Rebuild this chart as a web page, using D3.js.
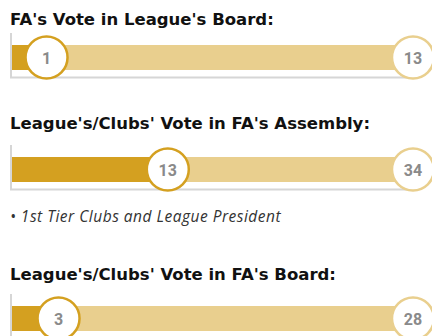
<!DOCTYPE html>
<html>
<head>
<meta charset="utf-8">
<script src="https://cdn.jsdelivr.net/npm/d3@7"></script>
<style>
  html, body { margin: 0; padding: 0; background: #fff; }
  svg { display: block; }
</style>
</head>
<body>
<svg id="chart" width="432" height="336"></svg>
<script>
// Votes held by each body versus the total seats
const titles = [
  "FA's Vote in League's Board:",
  "League's/Clubs' Vote in FA's Assembly:",
  "League's/Clubs' Vote in FA's Board:"
];
const values = [1, 13, 3];
const totals = [13, 34, 28];
const notes = ["", "\u2022 1st Tier Clubs and League President", ""];

const dark = "#D4A020";
const light = "#E9CF8E";
const axisGray = "#D6D6D6";
const numGray = "#8A8A8A";

// Vertical placement of each block (title baseline, bar top)
const titleY = [25, 129, 280];
const barTop = [45, 157, 306];
const barH = 25;
const r = 21;
const x0 = 12, x1 = 413;

const svg = d3.select("#chart");

titles.forEach((t, i) => {
  const g = svg.append("g");
  const x = d3.scaleLinear().domain([0, totals[i]]).range([x0 + 4, x1]);
  const cy = barTop[i] + barH / 2;

  g.append("text")
    .attr("x", 10).attr("y", titleY[i])
    .attr("font-family", "'DejaVu Sans', sans-serif")
    .attr("font-weight", 700)
    .attr("font-size", 16.5)
    .attr("letter-spacing", 0)
    .attr("fill", "#111")
    .text(t);

  // full-length track
  g.append("rect")
    .attr("x", x0).attr("y", barTop[i])
    .attr("width", x(totals[i]) - x0).attr("height", barH)
    .attr("fill", light);

  // filled portion
  g.append("rect")
    .attr("x", x0).attr("y", barTop[i])
    .attr("width", x(values[i]) - x0).attr("height", barH)
    .attr("fill", dark);

  // axis lines
  g.append("line")
    .attr("x1", x0 - 1).attr("x2", x0 - 1)
    .attr("y1", barTop[i] - 12).attr("y2", barTop[i] + barH + 8)
    .attr("stroke", axisGray).attr("stroke-width", 2);
  g.append("line")
    .attr("x1", x0 - 2).attr("x2", x1)
    .attr("y1", barTop[i] + barH + 7.5).attr("y2", barTop[i] + barH + 7.5)
    .attr("stroke", axisGray).attr("stroke-width", 2);

  const markers = [
    { v: totals[i], stroke: light },
    { v: values[i], stroke: dark }
  ];
  markers.forEach(m => {
    g.append("circle")
      .attr("cx", x(m.v)).attr("cy", cy).attr("r", r)
      .attr("fill", "#fff")
      .attr("stroke", m.stroke).attr("stroke-width", 2.5);
    g.append("text")
      .attr("x", x(m.v)).attr("y", cy + 6)
      .attr("text-anchor", "middle")
      .attr("font-family", "Roboto, sans-serif")
      .attr("font-weight", 700)
      .attr("font-size", 16)
      .attr("fill", numGray)
      .text(m.v);
  });

  if (notes[i]) {
    g.append("text")
      .attr("x", 10).attr("y", barTop[i] + barH + 40)
      .attr("font-family", "'Open Sans', sans-serif")
      .attr("font-style", "italic")
      .attr("font-size", 15.5)
      .attr("letter-spacing", 0.5)
      .attr("fill", "#333")
      .text(notes[i]);
  }
});
</script>
</body>
</html>
